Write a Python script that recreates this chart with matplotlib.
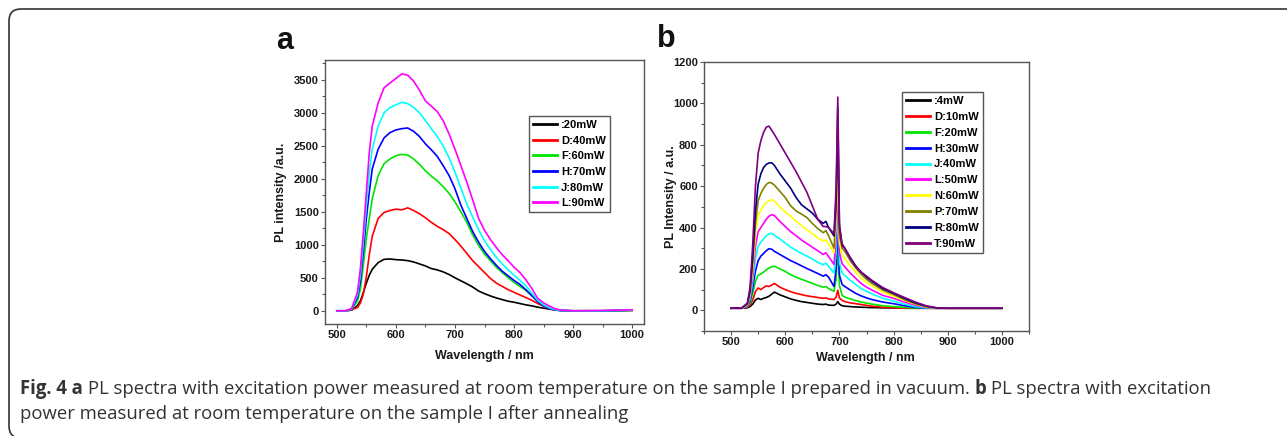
import matplotlib
matplotlib.use('Agg')
import matplotlib.pyplot as plt
from matplotlib.ticker import MultipleLocator
from matplotlib.patches import FancyBboxPatch
from matplotlib.transforms import IdentityTransform

# ---------------- data: panel a ----------------
wl_a = [500, 515, 525, 535, 540, 545, 550, 555, 560, 570, 580, 590, 600, 610, 620, 630,
        640, 650, 660, 670, 680, 690, 700, 710, 720, 730, 740, 750, 760, 770, 780, 790,
        800, 810, 820, 830, 840, 850, 860, 870, 880, 900, 950, 1000]
labels_a = [':20mW', 'D:40mW', 'F:60mW', 'H:70mW', 'J:80mW', 'L:90mW']
a_20 = [0, 0, 10, 80, 150, 280, 420, 540, 630, 730, 780, 785, 775, 770, 760, 740,
        710, 680, 640, 620, 590, 550, 500, 455, 410, 360, 300, 260, 225, 195, 170, 145,
        130, 110, 90, 75, 55, 40, 25, 12, 5, 0, 0, 5]
a_40 = [0, 0, 15, 50, 120, 260, 520, 850, 1130, 1400, 1490, 1520, 1540, 1530, 1560, 1520,
        1470, 1410, 1340, 1280, 1230, 1170, 1080, 980, 870, 760, 670, 580, 490, 420, 370, 320,
        280, 240, 200, 160, 110, 70, 35, 12, 3, 0, 0, 8]
a_60 = [0, 0, 20, 150, 330, 700, 1100, 1400, 1700, 2050, 2230, 2300, 2350, 2370, 2360, 2300,
        2220, 2120, 2040, 1970, 1880, 1780, 1650, 1500, 1340, 1150, 990, 860, 760, 660, 580, 500,
        430, 370, 310, 230, 150, 80, 40, 15, 5, 0, 0, 8]
a_70 = [0, 0, 25, 200, 450, 900, 1400, 1800, 2150, 2450, 2620, 2700, 2740, 2760, 2770, 2720,
        2640, 2530, 2440, 2340, 2200, 2050, 1850, 1600, 1400, 1200, 1040, 900, 790, 690, 600, 530,
        460, 400, 320, 230, 140, 75, 35, 12, 3, 0, 0, 10]
a_80 = [0, 0, 30, 240, 550, 1050, 1600, 2100, 2450, 2800, 3000, 3080, 3120, 3160, 3140, 3080,
        3000, 2880, 2760, 2640, 2500, 2320, 2100, 1860, 1620, 1420, 1230, 1060, 930, 810, 710, 620,
        540, 460, 380, 270, 160, 90, 45, 18, 5, 0, 0, 10]
a_90 = [0, 0, 35, 280, 650, 1200, 1800, 2400, 2800, 3150, 3380, 3450, 3520, 3590, 3570, 3480,
        3340, 3180, 3100, 3020, 2880, 2680, 2450, 2200, 1950, 1680, 1400, 1220, 1080, 960, 850, 760,
        660, 580, 470, 340, 190, 120, 70, 30, 10, 0, 5, 15]
series_a = [a_20, a_40, a_60, a_70, a_80, a_90]
colors_a = ['#000000', '#ff0000', '#00e600', '#0000ff', '#00ffff', '#ff00ff']

# ---------------- data: panel b ----------------
wl_b = [500, 520, 530, 535, 540, 545, 550, 555, 560, 565, 570, 575, 580, 590, 600, 610,
        620, 630, 640, 650, 660, 670, 675, 680, 690, 694, 697, 700, 705, 710, 720, 730,
        740, 750, 760, 780, 800, 820, 840, 860, 880, 900, 950, 1000]
labels_b = [':4mW', 'D:10mW', 'F:20mW', 'H:30mW', 'J:40mW', 'L:50mW', 'N:60mW',
            'P:70mW', 'R:80mW', 'T:90mW']
b_4 = [10, 10, 12, 18, 30, 50, 58, 52, 58, 62, 68, 78, 88, 75, 65, 55,
       48, 42, 38, 34, 30, 28, 30, 25, 24, 30, 42, 30, 22, 20, 18, 16,
       15, 14, 13, 12, 11, 10, 10, 10, 10, 10, 10, 10]
b_10 = [10, 10, 15, 25, 50, 90, 108, 100, 110, 118, 115, 122, 130, 112, 100, 90,
        82, 76, 70, 66, 62, 58, 60, 55, 52, 65, 97, 60, 48, 42, 36, 32,
        28, 24, 20, 15, 12, 10, 10, 10, 10, 10, 10, 10]
b_20 = [10, 10, 18, 35, 80, 140, 170, 175, 185, 195, 205, 210, 213, 200, 188, 172,
        160, 150, 140, 130, 120, 112, 115, 105, 92, 150, 330, 120, 72, 64, 55, 47,
        40, 35, 30, 22, 18, 14, 11, 10, 10, 10, 10, 10]
b_30 = [10, 10, 20, 45, 110, 190, 240, 262, 275, 288, 298, 295, 285, 270, 255, 240,
        228, 215, 202, 190, 178, 165, 172, 160, 115, 200, 420, 170, 125, 115, 98, 82,
        70, 60, 52, 40, 32, 22, 14, 11, 10, 10, 10, 10]
b_40 = [10, 10, 22, 55, 140, 250, 310, 330, 345, 360, 370, 372, 362, 345, 325, 305,
        290, 275, 262, 248, 232, 220, 228, 212, 180, 280, 500, 230, 180, 168, 145, 125,
        105, 92, 80, 58, 45, 30, 18, 12, 10, 10, 10, 10]
b_50 = [10, 10, 25, 65, 170, 310, 380, 400, 420, 440, 455, 462, 458, 430, 405, 380,
        360, 340, 322, 305, 288, 270, 278, 260, 222, 350, 620, 280, 225, 210, 180, 155,
        130, 112, 98, 72, 58, 40, 25, 14, 10, 10, 10, 10]
b_60 = [10, 10, 28, 75, 200, 370, 460, 485, 505, 520, 530, 535, 528, 500, 475, 455,
        430, 410, 390, 370, 350, 335, 340, 320, 278, 420, 730, 330, 265, 250, 215, 185,
        155, 135, 118, 88, 68, 48, 30, 16, 10, 10, 10, 10]
b_70 = [10, 12, 30, 85, 230, 420, 530, 565, 590, 608, 618, 615, 605, 575, 545, 505,
        480, 465, 448, 420, 395, 375, 385, 360, 300, 480, 860, 360, 300, 285, 240, 205,
        175, 150, 130, 98, 76, 52, 32, 18, 10, 10, 10, 10]
b_80 = [10, 12, 32, 95, 260, 480, 610, 660, 690, 705, 712, 713, 700, 660, 625, 590,
        545, 510, 490, 470, 440, 420, 430, 400, 360, 540, 980, 400, 320, 300, 255, 215,
        185, 160, 140, 105, 82, 58, 36, 20, 11, 10, 10, 10]
b_90 = [10, 12, 35, 110, 320, 600, 760, 820, 860, 885, 890, 870, 850, 805, 760, 715,
        670, 620, 570, 505, 440, 405, 405, 400, 370, 600, 1030, 420, 310, 300, 250, 210,
        185, 165, 145, 110, 85, 62, 40, 22, 12, 10, 10, 10]
series_b = [b_4, b_10, b_20, b_30, b_40, b_50, b_60, b_70, b_80, b_90]
colors_b = ['#000000', '#ff0000', '#00e600', '#0000ff', '#00ffff', '#ff00ff',
            '#ffff00', '#808000', '#000080', '#800080']

caption_line1 = [('Fig. 4 a', 'bold'),
                 ('PL spectra with excitation power measured at room temperature on the sample I prepared in vacuum.', 'normal'),
                 ('b', 'bold'),
                 ('PL spectra with excitation', 'normal')]
caption_line2 = [('power measured at room temperature on the sample I after annealing', 'normal')]

# ---------------- figure ----------------
W, H = 1287, 436
plt.rcParams['font.family'] = ['Liberation Sans', 'DejaVu Sans']
fig = plt.figure(figsize=(W / 100, H / 100), dpi=100)


def fx(px):
    return px / W


def fy(py):
    return 1 - py / H


spine_col = '#555555'
tick_col = '#1a1a1a'


def style_axes(ax, major_y, minor_y):
    for s in ax.spines.values():
        s.set_color(spine_col)
        s.set_linewidth(1.0)
    ax.xaxis.set_major_locator(MultipleLocator(100))
    ax.xaxis.set_minor_locator(MultipleLocator(50))
    ax.yaxis.set_major_locator(MultipleLocator(major_y))
    ax.yaxis.set_minor_locator(MultipleLocator(minor_y))
    ax.tick_params(which='major', direction='out', length=3, width=0.8, color=spine_col,
                   labelsize=8, labelcolor=tick_col, pad=1.5, top=False, right=False)
    ax.tick_params(which='minor', direction='out', length=2, width=0.8, color=spine_col,
                   top=False, right=False)
    for lab in ax.get_xticklabels() + ax.get_yticklabels():
        lab.set_fontweight('bold')


def make_legend(ax, x_px, y_px, spacing):
    leg = ax.legend(loc='upper left', bbox_to_anchor=(fx(x_px), fy(y_px)),
                    bbox_transform=fig.transFigure, frameon=True, fancybox=False,
                    edgecolor='#555555', framealpha=1, borderaxespad=0,
                    prop={'weight': 'bold', 'size': 8}, handlelength=2.2,
                    handletextpad=0.35, borderpad=0.35, labelspacing=spacing)
    leg.get_frame().set_linewidth(1.0)
    for l in leg.get_lines():
        l.set_linewidth(2.0)
    return leg


# panel a
ax_a = fig.add_axes([fx(325), fy(324), (644 - 325) / W, (324 - 60) / H])
for ys, c, lab in zip(series_a, colors_a, labels_a):
    ax_a.plot(wl_a, ys, color=c, lw=1.2, label=lab)
ax_a.set_xlim(480, 1020)
ax_a.set_ylim(-200, 3800)
style_axes(ax_a, 500, 250)
ax_a.set_xlabel('Wavelength / nm', fontsize=9, fontweight='bold', color=tick_col)
ax_a.set_ylabel('PL intensity /a.u.', fontsize=9, fontweight='bold', color=tick_col)
ax_a.xaxis.set_label_coords(0.5, -0.098)
ax_a.yaxis.set_label_coords(-0.118, 0.5)
make_legend(ax_a, 529, 116, 0.51)

# panel b
ax_b = fig.add_axes([fx(704), fy(331), (1029 - 704) / W, (331 - 62) / H])
for ys, c, lab in zip(series_b, colors_b, labels_b):
    ax_b.plot(wl_b, ys, color=c, lw=1.2, label=lab)
ax_b.set_xlim(450, 1050)
ax_b.set_ylim(-100, 1200)
style_axes(ax_b, 200, 100)
ax_b.set_xlabel('Wavelength / nm', fontsize=9, fontweight='bold', color=tick_col)
ax_b.set_ylabel('PL Intensity / a.u.', fontsize=9, fontweight='bold', color=tick_col)
ax_b.xaxis.set_label_coords(0.495, -0.078)
ax_b.yaxis.set_label_coords(-0.083, 0.5)
make_legend(ax_b, 902, 92, 0.53)

# panel letters
fig.text(fx(276), fy(49), 'a', fontsize=22, fontweight='bold', color='#111111',
         ha='left', va='baseline')
fig.text(fx(657), fy(47), 'b', fontsize=22, fontweight='bold', color='#111111',
         ha='left', va='baseline')

# outer frame (only left/top edges and the lower-left corner fall inside the canvas)
frame = FancyBboxPatch((9, -2), 1500, 429, boxstyle='round,pad=0,rounding_size=12',
                       transform=IdentityTransform(), facecolor='none',
                       edgecolor='#333333', linewidth=1.2, clip_on=False)
fig.add_artist(frame)

# caption
renderer = fig.canvas.get_renderer()
cap_family = ['Open Sans', 'DejaVu Sans']
cap_col = '#333333'


def text_w(s, size, weight):
    t = fig.text(0, 0, s, fontsize=size, fontweight=weight, family=cap_family)
    w = t.get_window_extent(renderer).width
    t.remove()
    return w


def draw_runs(runs, x0, y0, size, draw=True):
    sp = text_w('x x', size, 'normal') - text_w('xx', size, 'normal')
    x = x0
    for i, (s, w) in enumerate(runs):
        if i > 0:
            x += sp
        if draw:
            fig.text(fx(x), fy(y0), s, fontsize=size, fontweight=w, family=cap_family,
                     color=cap_col, ha='left', va='baseline')
        x += text_w(s, size, w)
    return x


cap_x0, cap_x1 = 20, 1213
base = 10.0
w_total = draw_runs(caption_line1, cap_x0, 0, base, draw=False) - cap_x0
cap_size = base * (cap_x1 - cap_x0) / w_total
draw_runs(caption_line1, cap_x0, 394, cap_size)
draw_runs(caption_line2, cap_x0, 419, cap_size)

fig.savefig('out.png', dpi=100)
